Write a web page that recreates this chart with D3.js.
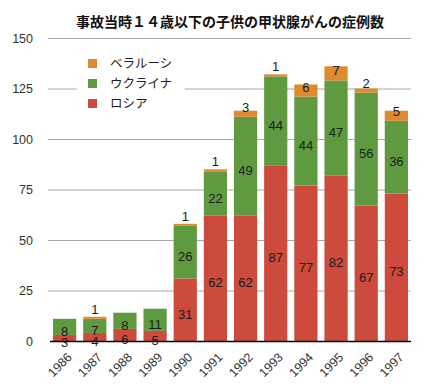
<!DOCTYPE html>
<html>
<head>
<meta charset="utf-8">
<script src="https://cdn.jsdelivr.net/npm/d3@7/dist/d3.min.js"></script>
<style>
  html, body { margin: 0; padding: 0; background: #fff; }
  svg { display: block; }
  text { font-family: "Noto Sans CJK JP", "Noto Sans", sans-serif; }
  .num { font-family: "Liberation Sans", "DejaVu Sans", sans-serif; }
</style>
</head>
<body>
<svg id="chart" width="430" height="390"></svg>
<script>
const years = ["1986","1987","1988","1989","1990","1991","1992","1993","1994","1995","1996","1997"];
const russia  = [3, 4, 6, 5, 31, 62, 62, 87, 77, 82, 67, 73];
const ukraine = [8, 7, 8, 11, 26, 22, 49, 44, 44, 47, 56, 36];
const belarus = [0, 1, 0, 0, 1, 1, 3, 1, 6, 7, 2, 5];
const seriesNames = ["ロシア", "ウクライナ", "ベラルーシ"];
const legendOrder = ["ベラルーシ", "ウクライナ", "ロシア"];
const yTicks = [0, 25, 50, 75, 100, 125, 150];
const title = "事故当時１４歳以下の子供の甲状腺がんの症例数";

const colors = {"ロシア": "#cc4b3d", "ウクライナ": "#5f9a40", "ベラルーシ": "#e08a2f"};

const svg = d3.select("#chart");
const mLeft = 50, mRight = 411, mTop = 38, mBottom = 341;

const x = d3.scaleBand().domain(years).range([mLeft, mRight]).paddingInner(0.23).paddingOuter(0.1);
const y = d3.scaleLinear().domain([0, 150]).range([mBottom, mTop]);

// title
svg.append("text").attr("x", 230).attr("y", 27).attr("text-anchor", "middle")
  .attr("font-size", 14).attr("font-weight", "bold").attr("fill", "#111").text(title);

// gridlines
svg.append("g").selectAll("line").data(yTicks.filter(d => d > 0)).join("line")
  .attr("x1", mLeft - 2).attr("x2", mRight).attr("y1", d => y(d) + 0.5).attr("y2", d => y(d) + 0.5)
  .attr("stroke", "#a8a8a8").attr("stroke-width", 1);

// y tick labels
svg.append("g").selectAll("text").data(yTicks).join("text")
  .attr("class", "num").attr("x", 33).attr("y", d => y(d) + 4.5).attr("text-anchor", "end")
  .attr("font-size", 12.5).attr("fill", "#333").text(d => d);

// stacked data
const rows = years.map((yr, i) => ({year: yr, "ロシア": russia[i], "ウクライナ": ukraine[i], "ベラルーシ": belarus[i]}));
const stack = d3.stack().keys(seriesNames)(rows);

const g = svg.append("g");
stack.forEach(layer => {
  const key = layer.key;
  g.append("g").selectAll("rect").data(layer).join("rect")
    .attr("x", d => x(d.data.year))
    .attr("width", x.bandwidth())
    .attr("y", d => y(d[1]))
    .attr("height", d => y(d[0]) - y(d[1]))
    .attr("fill", colors[key]);
});

// value labels
stack.forEach(layer => {
  const key = layer.key;
  g.append("g").selectAll("text").data(layer.filter(d => d[1] - d[0] > 0)).join("text")
    .attr("class", "num")
    .attr("x", d => x(d.data.year) + x.bandwidth() / 2)
    .attr("y", d => key === "ベラルーシ" ? y(d[0]) - 5 : (y(d[0]) + y(d[1])) / 2 + 9)
    .attr("text-anchor", "middle").attr("font-size", 13).attr("fill", "#1a1a1a")
    .text(d => d[1] - d[0]);
});

// baseline
svg.append("line").attr("x1", mLeft).attr("x2", mRight).attr("y1", mBottom + 0.5).attr("y2", mBottom + 0.5)
  .attr("stroke", "#000").attr("stroke-width", 1.3);

// x labels
svg.append("g").selectAll("text").data(years).join("text")
  .attr("class", "num")
  .attr("transform", d => `translate(${x(d) + x.bandwidth() / 2 + 8},358) rotate(-45)`)
  .attr("text-anchor", "end").attr("font-size", 12.5).attr("fill", "#333").text(d => d);

// legend
const lg = svg.append("g");
lg.append("rect").attr("x", 77).attr("y", 50).attr("width", 108).attr("height", 64).attr("fill", "#fff");
legendOrder.forEach((name, i) => {
  lg.append("rect").attr("x", 88).attr("y", 59 + i * 20).attr("width", 9).attr("height", 9).attr("fill", colors[name]);
  lg.append("text").attr("x", 110).attr("y", 68 + i * 20).attr("font-size", 12.5).attr("fill", "#222").text(name);
});
</script>
</body>
</html>
